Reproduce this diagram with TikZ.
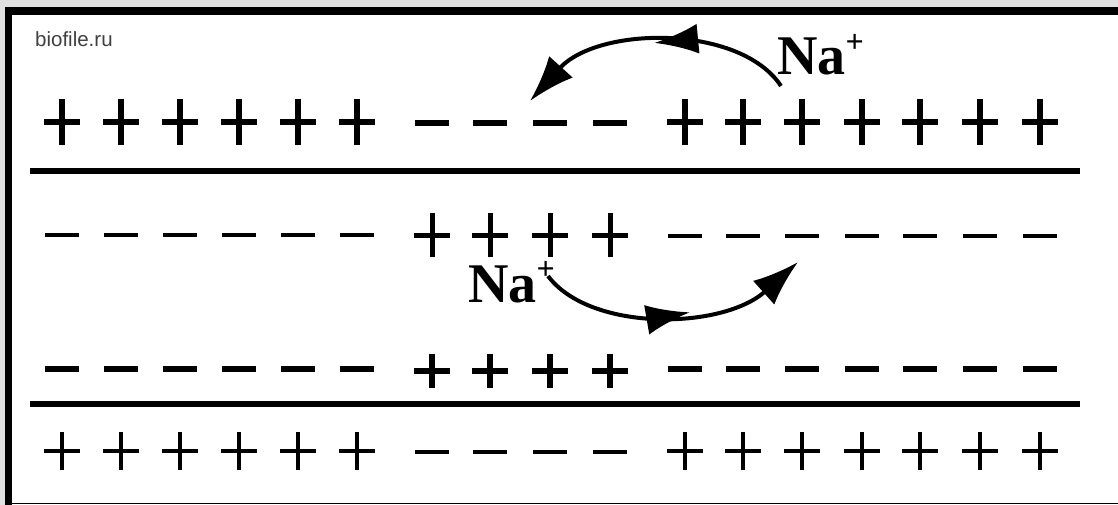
\documentclass[tikz,border=0pt]{standalone}
\usepackage{fontspec}
\setmainfont{Liberation Serif}
\newfontfamily\sitefont{Liberation Sans}
\usepackage{tikz}
\usetikzlibrary{arrows.meta,decorations.markings}

% one row of plus or minus signs
\newcommand{\plusrow}[4]{\foreach \x in {#1} \draw[line width=#4] (\x-18,#2) -- (\x+18,#2) (\x,#2-#3) -- (\x,#2+#3);}
\newcommand{\minusrow}[3]{\foreach \x in {#1} \draw[line width=#3] (\x-17,#2) -- (\x+17,#2);}
\newcommand{\ioncharge}{\raisebox{0.4em}{\fontsize{32}{32}\selectfont +}}

\begin{document}
\begin{tikzpicture}[x=1pt, y=-1pt,
  ionflow/.style={line width=4pt, -{Latex[length=46pt,width=32pt]}},
  midhead/.style={postaction={decorate}, decoration={markings,
      mark=at position #1 with {\arrow{Latex[length=44pt,width=30pt]}}}},
  ionlabel/.style={anchor=base west, inner sep=0pt, font=\fontsize{56}{60}\selectfont\bfseries}]
  \useasboundingbox (0,0) rectangle (1118,505);
  \fill[black!12] (0,0) rectangle (1118,505);
  \fill[white] (5,7) rectangle (1118,505);
  % frame
  \draw[line width=8pt] (5,11) -- (1118,11);
  \draw[line width=7pt] (8.5,7) -- (8.5,505);
  \draw[line width=1.5pt] (5,503.5) -- (1118,503.5);
  \node[anchor=base west, inner sep=0pt, text=black!75, font=\sitefont\fontsize{20.5}{22}\selectfont] (site) at (35,47) {biofile.ru};
  % membranes
  \draw[line width=6pt] (30,171) -- (1080,171);
  \draw[line width=6pt] (30,404) -- (1080,404);
  % outside, top
  \plusrow{62,121,180,239,298,357}{122}{23}{5.5pt}
  \minusrow{432,490,550,610}{123}{5.5pt}
  \plusrow{685,743,802,862,920,980,1040}{122}{23}{5.5pt}
  % inside, top
  \minusrow{62,121,180,239,298,357}{235}{3.5pt}
  \plusrow{432,490,550,610}{235}{22}{5pt}
  \minusrow{685,743,802,862,920,980,1040}{236}{3.5pt}
  % inside, bottom
  \minusrow{62,121,180,239,298,357}{369}{6pt}
  \plusrow{432,490,550,610}{371}{17}{5.5pt}
  \minusrow{685,743,802,862,920,980,1040}{369}{5.5pt}
  % outside, bottom
  \plusrow{62,121,180,239,298,357}{451}{19}{4.5pt}
  \minusrow{432,490,550,610}{452}{4pt}
  \plusrow{685,743,802,862,920,980,1040}{451}{19}{4.5pt}
  % sodium currents
  \node[ionlabel] (naOut) at (777,75) {Na\ioncharge};
  \node[ionlabel] (naIn) at (468,302) {Na\ioncharge};
  \coordinate (naOutFrom) at (781,86);
  \coordinate (naOutTo) at (530,101);
  \coordinate (naInFrom) at (548,276);
  \coordinate (naInTo) at (798,262);
  \draw[ionflow, midhead=0.5] (naOutFrom) .. controls (740,24) and (598,26) .. (naOutTo);
  \draw[ionflow, midhead=0.56] (naInFrom) .. controls (590,332) and (722,330) .. (naInTo);
\end{tikzpicture}
\end{document}
